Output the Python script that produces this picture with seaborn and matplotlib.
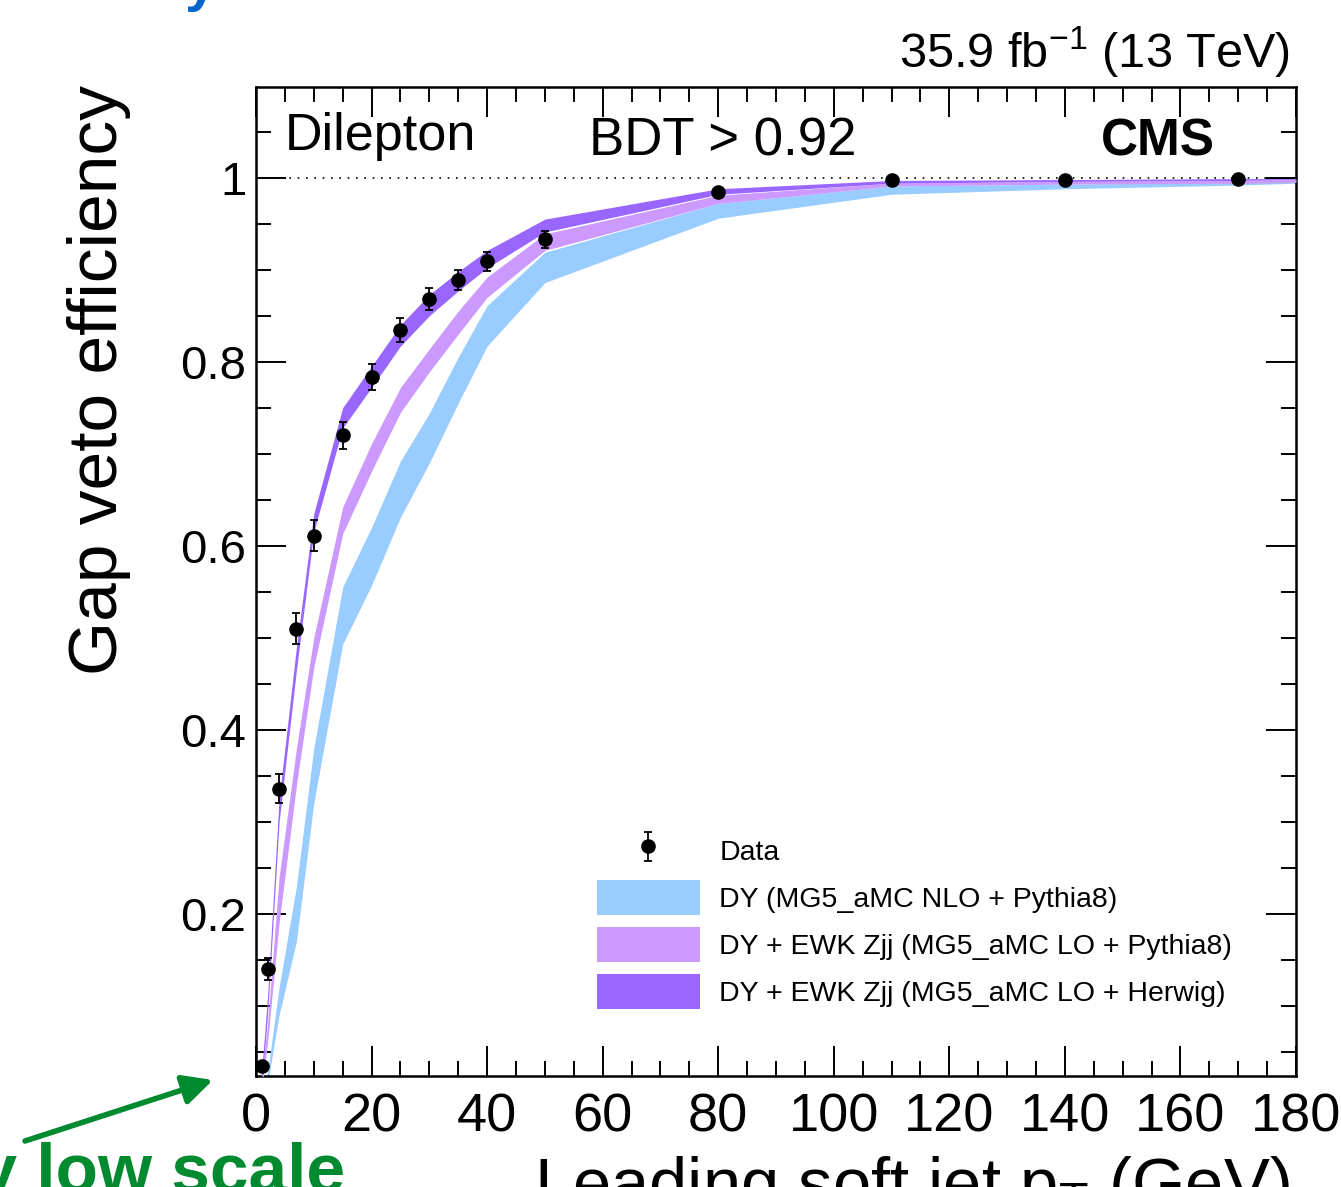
import numpy as np
import pandas as pd
import seaborn as sns
import matplotlib.pyplot as plt
from matplotlib.ticker import MultipleLocator
from matplotlib.patches import Patch

# Data: gap veto efficiency vs leading soft jet pT threshold
pt_cut = [1, 2, 4, 7, 10, 15, 20, 25, 30, 35, 40, 50, 80, 110, 140, 170]
eff_data = [0.034, 0.140, 0.336, 0.510, 0.611, 0.720, 0.783, 0.834, 0.868,
            0.889, 0.909, 0.933, 0.984, 0.997, 0.998, 0.999]
eff_err = [0.004, 0.012, 0.016, 0.017, 0.017, 0.015, 0.014, 0.013, 0.012,
           0.011, 0.010, 0.009, 0.003, 0.002, 0.002, 0.002]

# MC bands (low / high edge)
band_pt = [1, 2, 4, 7, 10, 15, 20, 25, 30, 35, 40, 50, 80, 110, 140, 170, 180]
nlo_py_lo = [0.0, 0.015, 0.09, 0.17, 0.32, 0.493, 0.557, 0.631, 0.690, 0.755,
             0.817, 0.886, 0.956, 0.982, 0.988, 0.992, 0.994]
nlo_py_hi = [0.0, 0.028, 0.12, 0.23, 0.38, 0.555, 0.620, 0.692, 0.744, 0.805,
             0.861, 0.919, 0.972, 0.991, 0.993, 0.995, 0.997]
lo_py_lo = [0.01, 0.06, 0.19, 0.34, 0.468, 0.613, 0.681, 0.745, 0.789, 0.830,
            0.870, 0.921, 0.972, 0.991, 0.993, 0.994, 0.995]
lo_py_hi = [0.02, 0.08, 0.24, 0.38, 0.500, 0.642, 0.711, 0.772, 0.814, 0.855,
            0.892, 0.939, 0.981, 0.994, 0.996, 0.997, 0.998]
lo_hw_lo = [0.015, 0.09, 0.30, 0.465, 0.615, 0.728, 0.772, 0.817, 0.850, 0.877,
            0.902, 0.941, 0.982, 0.994, 0.996, 0.997, 0.998]
lo_hw_hi = [0.03, 0.11, 0.325, 0.49, 0.635, 0.750, 0.795, 0.840, 0.873, 0.898,
            0.921, 0.955, 0.988, 0.997, 0.998, 0.999, 0.999]

labels = ['Data',
          'DY (MG5_aMC NLO + Pythia8)',
          'DY + EWK Zjj (MG5_aMC LO + Pythia8)',
          'DY + EWK Zjj (MG5_aMC LO + Herwig)']
colors = ['#99ccff', '#cc99ff', '#9966ff']

x_ticks = [0, 20, 40, 60, 80, 100, 120, 140, 160, 180]
y_ticks = [0.2, 0.4, 0.6, 0.8, 1.0]
y_tick_labels = ['0.2', '0.4', '0.6', '0.8', '1']

sns.set_theme(style='ticks')
plt.rcParams['font.family'] = ['Liberation Sans', 'DejaVu Sans']
plt.rcParams['mathtext.fontset'] = 'custom'
plt.rcParams['mathtext.rm'] = 'Liberation Sans'
plt.rcParams['mathtext.it'] = 'Liberation Sans:italic'
plt.rcParams['mathtext.bf'] = 'Liberation Sans:bold'
for key in ['text.color', 'axes.labelcolor', 'xtick.color', 'ytick.color', 'axes.edgecolor']:
    plt.rcParams[key] = 'black'

W, H = 1341, 1187
fig = plt.figure(figsize=(W / 100, H / 100), dpi=100)
ax = fig.add_axes([256 / W, 1 - 1076 / H, 1040 / W, 989 / H])

bands = pd.DataFrame({'pt': band_pt,
                      'nlo_lo': nlo_py_lo, 'nlo_hi': nlo_py_hi,
                      'py_lo': lo_py_lo, 'py_hi': lo_py_hi,
                      'hw_lo': lo_hw_lo, 'hw_hi': lo_hw_hi})
ax.fill_between(bands['pt'], bands['nlo_lo'], bands['nlo_hi'], color=colors[0], lw=0, zorder=2)
ax.fill_between(bands['pt'], bands['py_lo'], bands['py_hi'], color=colors[1], lw=0, zorder=3)
ax.fill_between(bands['pt'], bands['hw_lo'], bands['hw_hi'], color=colors[2], lw=0, zorder=4)

ax.axhline(1.0, color='black', lw=1.2, ls=(0, (1, 4)), zorder=1)

data_h = ax.errorbar(pt_cut, eff_data, yerr=eff_err, fmt='o', color='black',
                     ms=9.5, elinewidth=1.3, capsize=2.6, capthick=1.3, zorder=6)

ax.set_xlim(0, 180)
ax.set_ylim(0.0236, 1.0986)
ax.set_xticks(x_ticks)
ax.set_xticklabels([str(v) for v in x_ticks])
ax.set_yticks(y_ticks)
ax.set_yticklabels(y_tick_labels)
ax.xaxis.set_minor_locator(MultipleLocator(5))
ax.yaxis.set_minor_locator(MultipleLocator(0.05))
ax.tick_params(which='both', direction='in', top=True, right=True, width=1.4, color='black')
ax.tick_params(which='major', length=21.6)
ax.tick_params(which='minor', length=10.8)
ax.tick_params(axis='x', labelsize=39, pad=12, labelcolor='black')
ax.tick_params(axis='y', labelsize=34, pad=7, labelcolor='black')
for s in ax.spines.values():
    s.set_linewidth(1.8)
    s.set_color('black')

handles = [data_h] + [Patch(facecolor=c, edgecolor='none') for c in colors]
leg = ax.legend(handles, labels, loc='upper left', bbox_to_anchor=(597 / W, 1 - 833 / H),
                bbox_transform=fig.transFigure, frameon=False, fontsize=20.5,
                handlelength=3.6, handleheight=1.51, handletextpad=0.7,
                labelspacing=0.43, borderpad=0, borderaxespad=0)
for t in leg.get_texts():
    t.set_color('black')

# labels and annotations
fig.text(285 / W, 1 - 150 / H, 'Dilepton', fontsize=37.5, va='baseline', ha='left')
fig.text(723 / W, 1 - 156 / H, 'BDT > 0.92', fontsize=38, va='baseline', ha='center')
fig.text(1215 / W, 1 - 156 / H, 'CMS', fontsize=37, fontweight='bold', va='baseline', ha='right')
fig.text(1290 / W, 1 - 68 / H, r'35.9 fb$^{-1}$ (13 TeV)', fontsize=35, va='baseline', ha='right')
fig.text(117 / W, 1 - 85 / H, 'Gap veto efficiency', fontsize=50, rotation=90,
         rotation_mode='anchor', ha='right', va='baseline')
fig.text(1290 / W, 1 - 1206 / H, r'Leading soft jet p$_\mathrm{T}$ (GeV)', fontsize=49.5,
         ha='right', va='baseline')

# slide fragments around the plot
fig.text(216 / W, 1 - 0 / H, 'y', fontsize=41, fontweight='bold', color='#0066cc',
         ha='right', va='baseline')
fig.text(345 / W, 1 - 1192 / H, 'very low scale', fontsize=50, fontweight='bold',
         color='#008a30', ha='right', va='baseline')
ax.annotate('', xy=(213, H - 1080), xytext=(25, H - 1141), xycoords='figure pixels',
            textcoords='figure pixels', annotation_clip=False,
            arrowprops=dict(arrowstyle='-|>', lw=4, color='#008a30', mutation_scale=45,
                            shrinkA=0, shrinkB=0))

fig.savefig('out.png', dpi=100)
